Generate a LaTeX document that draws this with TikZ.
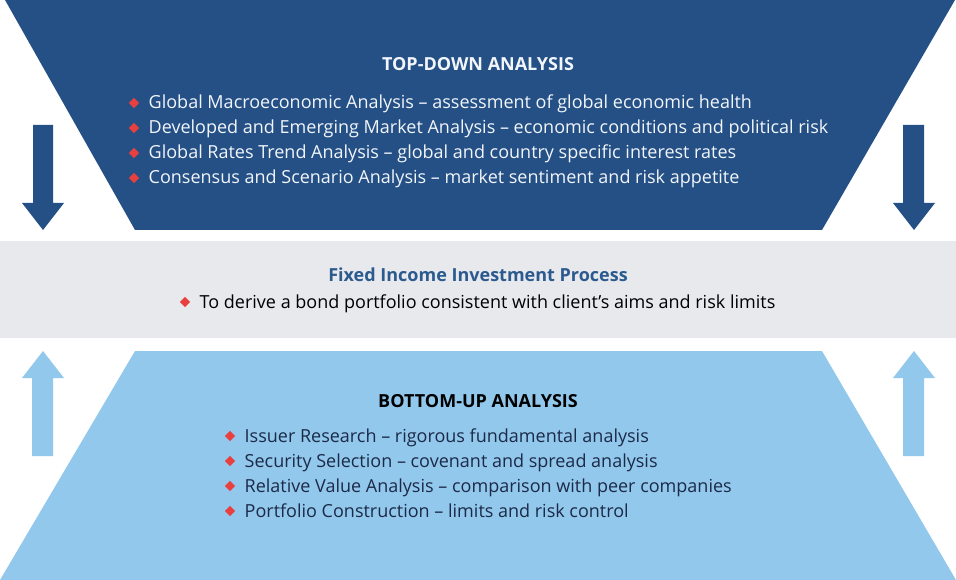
\documentclass[tikz,border=0pt]{standalone}
\usepackage{fontspec}
\setmainfont{Open Sans}
\usetikzlibrary{shapes.geometric,calc}
\definecolor{darkblue}{HTML}{245086}
\definecolor{lightblue}{HTML}{93C8ED}
\definecolor{bandgray}{HTML}{E8E9EC}
\definecolor{bulletred}{HTML}{E8403E}
\definecolor{titleblue}{HTML}{2B5A8F}
\definecolor{toptext}{HTML}{F2F5FA}
\definecolor{bottext}{HTML}{1B2A47}
\tikzset{
  bul/.style={diamond, fill=bulletred, inner sep=0pt, minimum width=10.5pt, minimum height=10.5pt},
  itemtext/.style={anchor=base west, inner sep=0pt, font=\fontsize{18}{21}\selectfont},
  headtext/.style={anchor=base, inner sep=0pt, font=\fontsize{18}{21}\selectfont\bfseries},
}
\newcommand{\bitem}[4]{% name, x, y (centre line), text
  \node[bul] (#1b) at (#2,#3) {};
  \node[itemtext] (#1) at ($(#2,#3)+(14.5,6)$) {#4};
}
\begin{document}
\begin{tikzpicture}[x=1pt,y=-1pt]
\useasboundingbox (0,0) rectangle (956,580);
% top trapezoid
\fill[darkblue] (5,0) -- (955,0) -- (822,230) -- (135,230) -- cycle;
% band
\fill[bandgray] (0,241) rectangle (956,338);
% bottom trapezoid
\fill[lightblue] (135,351) -- (822,351) -- (956,580) -- (0,580) -- cycle;
% down arrows
\fill[darkblue] (33,125) -- (53,125) -- (53,203) -- (64,203) -- (43,230) -- (22,203) -- (33,203) -- cycle;
\fill[darkblue] (903,125) -- (924,125) -- (924,203) -- (935,203) -- (914,230) -- (893,203) -- (903,203) -- cycle;
% up arrows
\fill[lightblue] (32,456) -- (53,456) -- (53,378) -- (64,378) -- (43,351) -- (22,378) -- (32,378) -- cycle;
\fill[lightblue] (903,456) -- (924,456) -- (924,378) -- (935,378) -- (914,351) -- (893,378) -- (903,378) -- cycle;
% top text
\node[headtext, text=toptext] (tdtitle) at (478,71) {TOP-DOWN ANALYSIS};
\begin{scope}[every node/.append style={text=toptext}]
\bitem{t1}{134}{103}{Global Macroeconomic Analysis – assessment of global economic health}
\bitem{t2}{134}{128}{Developed and Emerging Market Analysis – economic conditions and political risk}
\bitem{t3}{134}{153}{Global Rates Trend Analysis – global and country specific interest rates}
\bitem{t4}{134}{178}{Consensus and Scenario Analysis – market sentiment and risk appetite}
\end{scope}
% middle
\node[headtext, text=titleblue] (mtitle) at (478,281) {Fixed Income Investment Process};
\begin{scope}[every node/.append style={text=black}]
\bitem{m1}{185}{302}{To derive a bond portfolio consistent with client’s aims and risk limits}
\end{scope}
% bottom
\node[headtext, text=black] (butitle) at (478,407) {BOTTOM-UP ANALYSIS};
\begin{scope}[every node/.append style={text=bottext}]
\bitem{b1}{230}{436}{Issuer Research – rigorous fundamental analysis}
\bitem{b2}{230}{461}{Security Selection – covenant and spread analysis}
\bitem{b3}{230}{486}{Relative Value Analysis – comparison with peer companies}
\bitem{b4}{230}{511}{Portfolio Construction – limits and risk control}
\end{scope}
\end{tikzpicture}
\end{document}
